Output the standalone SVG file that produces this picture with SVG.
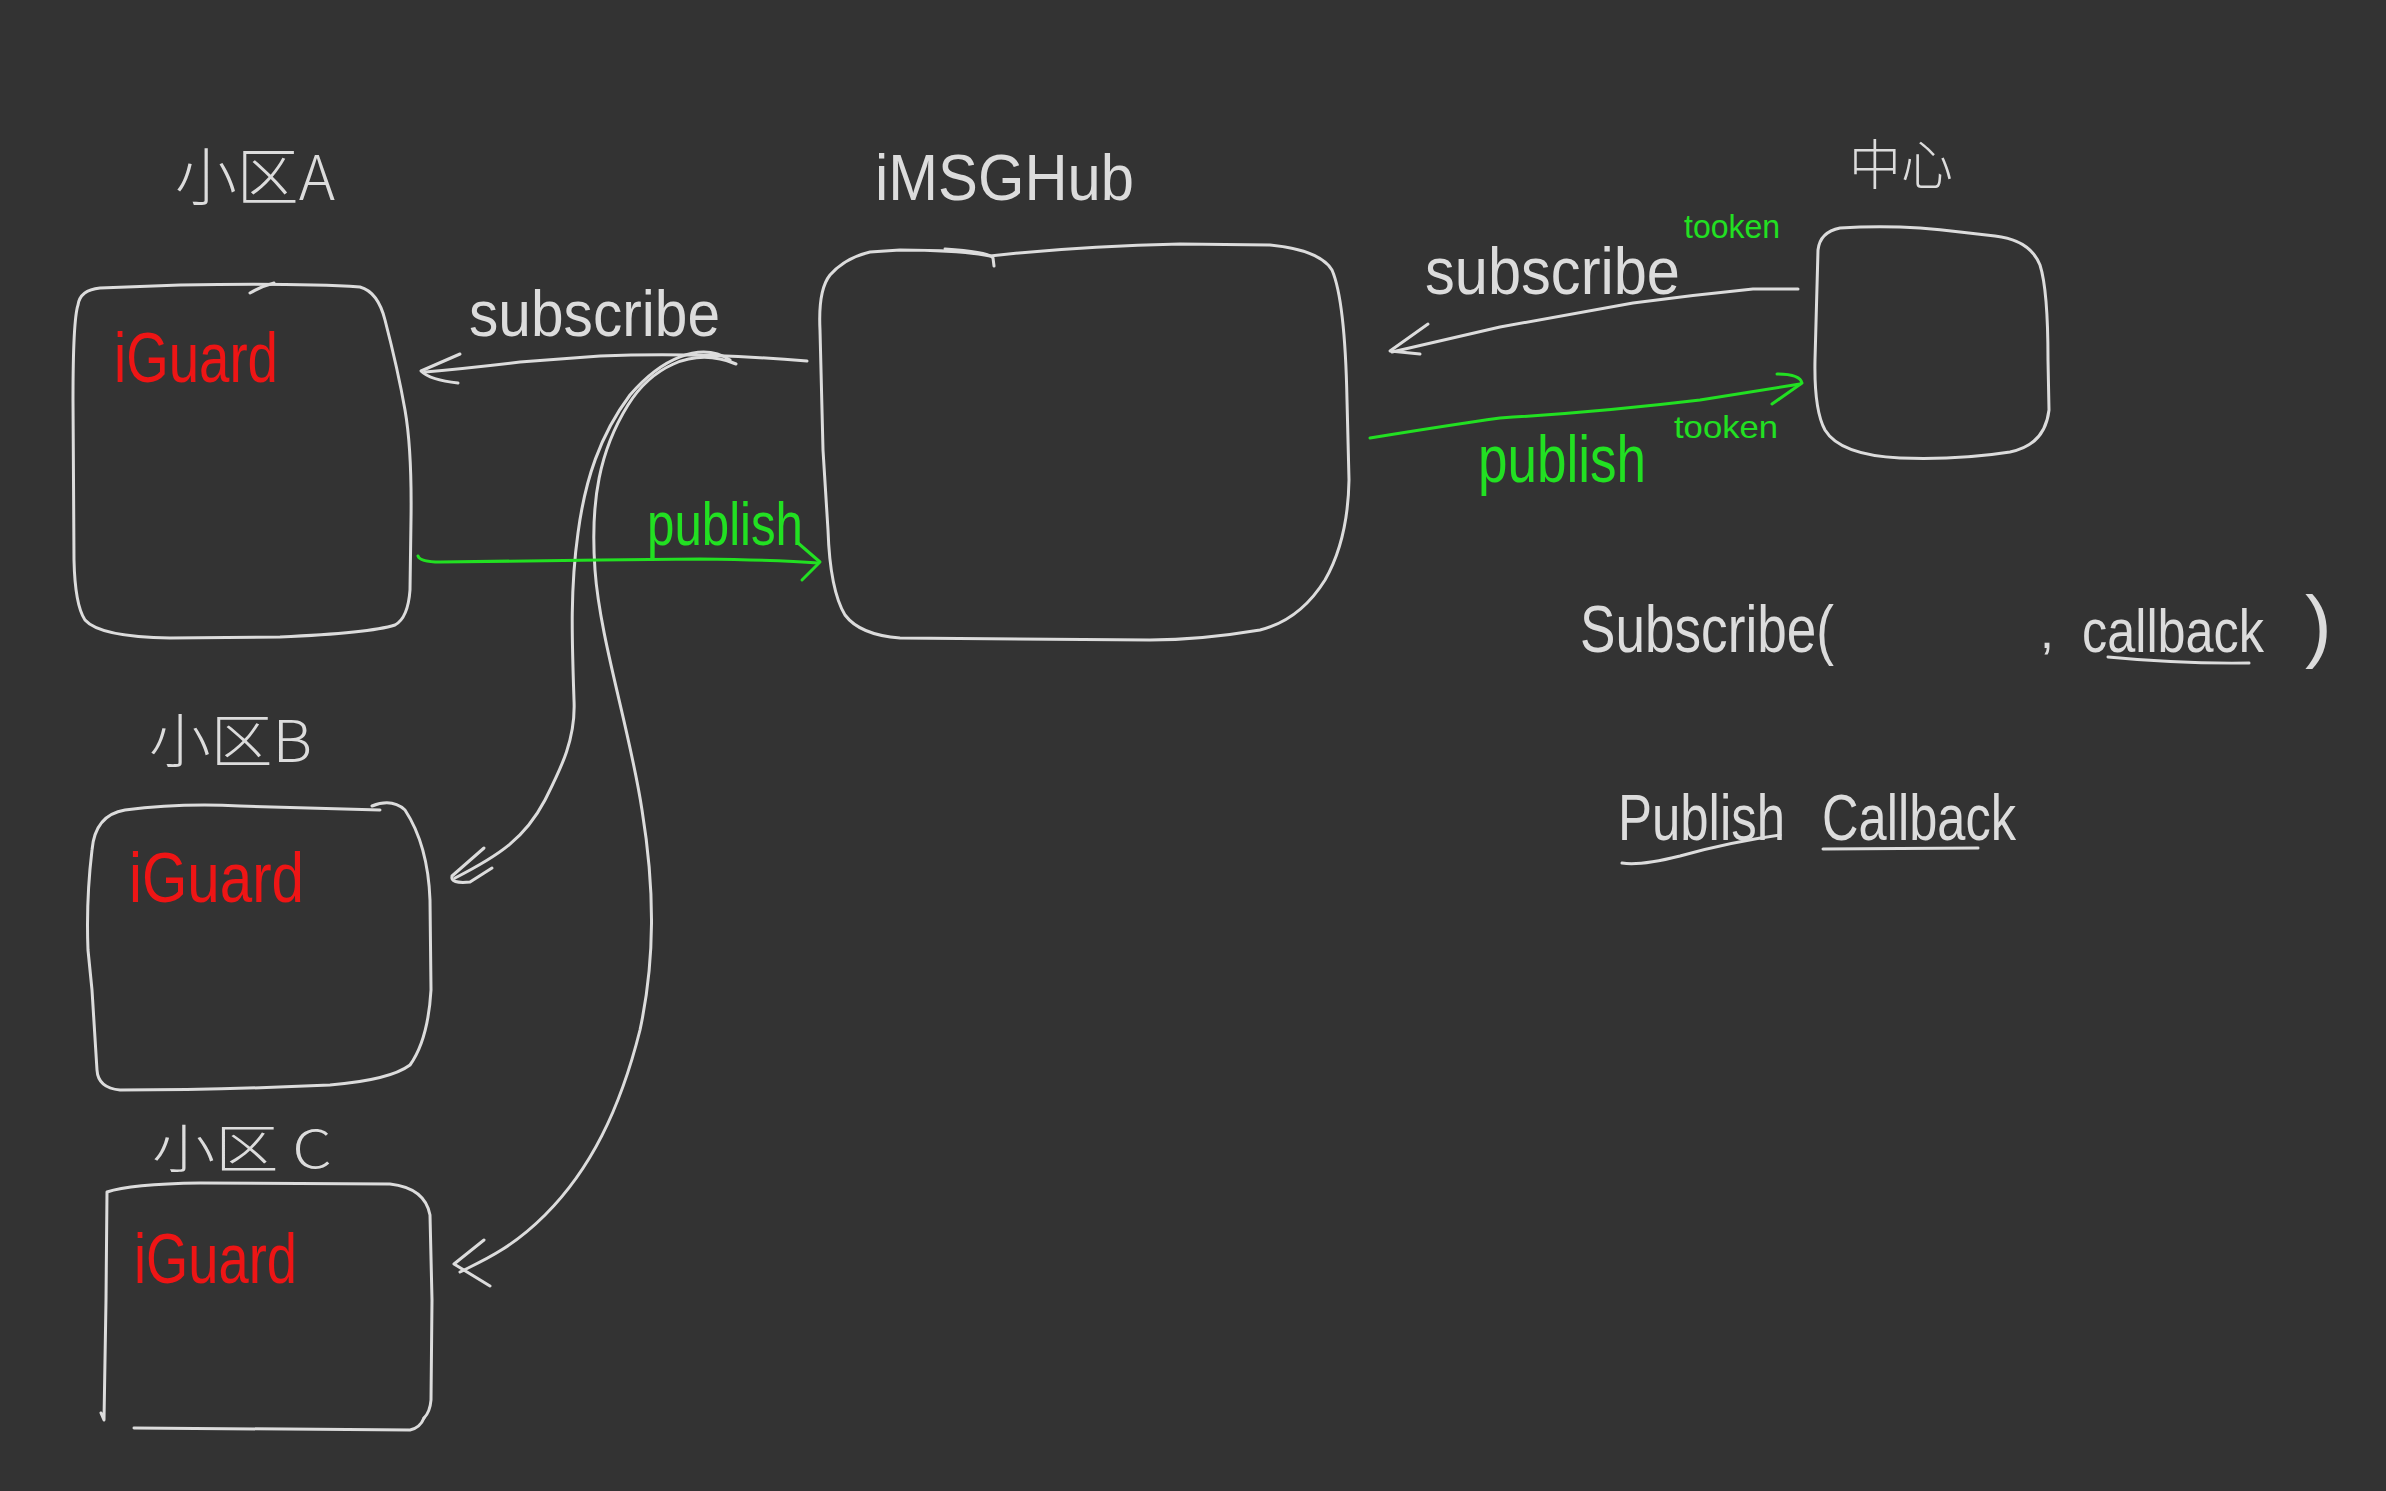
<svg xmlns="http://www.w3.org/2000/svg" width="2386" height="1491" viewBox="0 0 2386 1491">
<style>
.bg{fill:#333333}
.ln{fill:none;stroke:#dcdcdc;stroke-width:3;stroke-linecap:round;stroke-linejoin:round}
.gl{fill:none;stroke:#22e022;stroke-width:3;stroke-linecap:round;stroke-linejoin:round}
.t{font-family:"Liberation Sans","Noto Sans CJK SC",sans-serif;fill:#dcdcdc}
.cjk{font-family:"Noto Sans CJK SC",sans-serif;fill:#dcdcdc;font-weight:300}
.g{font-family:"Liberation Sans",sans-serif;fill:#22e022}
.r{font-family:"Liberation Sans",sans-serif;fill:#ee1515}
</style>
<rect class="bg" x="0" y="0" width="2386" height="1491"/>

<g id="nodeA">
<text class="cjk" x="175" y="200" font-size="62" textLength="160" lengthAdjust="spacingAndGlyphs">小区A</text>
<path class="ln" d="M78,305 Q80,290 100,288 L180,285 Q300,283 360,287 Q378,292 385,320 Q398,370 405,410 Q412,450 411,520 L410,590 Q408,618 395,625 Q370,633 280,637 L170,638 Q100,637 85,620 Q75,605 74,560 L73,400 Q73,320 78,305 Z"/>
<path class="ln" d="M250,293 Q262,286 274,283"/>
<text class="r" x="114" y="382" font-size="70" textLength="164" lengthAdjust="spacingAndGlyphs">iGuard</text>
</g>

<g id="nodeB">
<text class="cjk" x="149" y="762" font-size="58" textLength="163" lengthAdjust="spacingAndGlyphs">小区B</text>
<path class="ln" d="M380,810 L240,806 Q180,803 125,810 Q95,815 92,850 Q86,900 88,950 L92,990 L97,1070 Q98,1088 120,1090 Q220,1090 330,1085 Q390,1080 410,1065 Q428,1040 431,990 L430,900 Q428,845 405,810 Q392,798 372,806"/>
<text class="r" x="129" y="902" font-size="70" textLength="175" lengthAdjust="spacingAndGlyphs">iGuard</text>
</g>

<g id="nodeC">
<text class="cjk" x="152" y="1168" font-size="52" textLength="180" lengthAdjust="spacingAndGlyphs">小区 C</text>
<path class="ln" d="M101,1413 L104,1420 L106,1300 L107,1192 Q130,1184 200,1183 L390,1184 Q425,1188 430,1215 L432,1300 L431,1400 Q430,1412 424,1418"/>
<path class="ln" d="M134,1428 L410,1430 Q420,1428 424,1418"/>
<text class="r" x="134" y="1283" font-size="70" textLength="163" lengthAdjust="spacingAndGlyphs">iGuard</text>
</g>

<g id="nodeHub">
<text class="t" x="875" y="200" font-size="64" textLength="259" lengthAdjust="spacingAndGlyphs">iMSGHub</text>
<path class="ln" d="M820,330 Q818,290 830,275 Q845,258 870,252 L900,250 Q960,250 990,256 Q1080,246 1180,244 L1270,245 Q1320,250 1332,270 Q1345,300 1347,400 L1349,480 Q1348,540 1325,580 Q1300,620 1260,630 Q1200,640 1150,640 L900,638 Q860,635 845,615 Q830,590 828,530 L823,450 Z"/>
<path class="ln" d="M945,249 Q990,252 993,258 L994,266"/>
</g>

<g id="nodeCenter">
<text class="cjk" x="1849" y="185" font-size="54" textLength="104" lengthAdjust="spacingAndGlyphs">中心</text>
<path class="ln" d="M1818,250 Q1820,232 1840,228 Q1900,224 1960,232 L1995,236 Q2030,240 2040,265 Q2048,290 2048,360 L2049,410 Q2045,445 2010,452 Q1960,460 1900,458 Q1840,455 1825,430 Q1814,410 1815,360 Z"/>
</g>

<g id="connectors">
<path class="ln" d="M807,361 Q700,352 600,356 L520,362 Q470,368 425,372"/>
<path class="ln" d="M460,354 L421,371 Q430,380 458,383"/>
<text class="t" x="469" y="336" font-size="64" textLength="251" lengthAdjust="spacingAndGlyphs">subscribe</text>

<path class="ln" d="M730,360 C700,340 660,360 630,395 C600,435 585,480 578,533 C570,590 572,640 574,700 C576,740 560,770 545,800 C525,838 500,855 455,878"/>
<path class="ln" d="M484,848 L452,876 Q450,884 470,882 L492,868"/>

<path class="ln" d="M736,364 C690,345 650,370 628,405 C600,450 590,500 595,570 C600,640 630,730 642,810 C655,890 655,960 640,1030 C620,1110 590,1170 545,1215 C510,1250 480,1262 460,1272"/>
<path class="ln" d="M484,1240 L454,1264 L490,1286"/>

<path class="gl" d="M418,556 Q420,562 440,562 L600,560 L700,559 Q780,560 818,563"/>
<path class="gl" d="M798,543 L820,562 L802,580"/>
<text class="g" x="647" y="545" font-size="62" textLength="156" lengthAdjust="spacingAndGlyphs">publish</text>

<path class="ln" d="M1798,289 L1753,289 Q1693,295 1633,303 Q1567,315 1500,327 L1392,352"/>
<path class="ln" d="M1428,324 L1390,351 L1420,354"/>
<text class="t" x="1425" y="294" font-size="66" textLength="255" lengthAdjust="spacingAndGlyphs">subscribe</text>
<text class="g" x="1684" y="238" font-size="34" textLength="96" lengthAdjust="spacingAndGlyphs">tooken</text>

<path class="gl" d="M1370,438 Q1450,425 1500,418 Q1600,412 1700,400 L1800,384"/>
<path class="gl" d="M1777,374 Q1800,374 1802,383 L1772,404"/>
<text class="g" x="1478" y="482" font-size="66" textLength="168" lengthAdjust="spacingAndGlyphs">publish</text>
<text class="g" x="1674" y="438" font-size="32" textLength="104" lengthAdjust="spacingAndGlyphs">tooken</text>
</g>

<g id="notes">
<text class="t" x="1580" y="652" font-size="66" textLength="254" lengthAdjust="spacingAndGlyphs">Subscribe(</text>
<text class="t" x="2040" y="648" font-size="50">,</text>
<text class="t" x="2082" y="652" font-size="62" textLength="182" lengthAdjust="spacingAndGlyphs">callback</text>
<text class="t" x="2305" y="652" font-size="80">)</text>
<path class="ln" d="M2108,657 Q2180,664 2249,663"/>
<text class="t" x="1618" y="840" font-size="64" textLength="167" lengthAdjust="spacingAndGlyphs">Publish</text>
<text class="t" x="1822" y="840" font-size="64" textLength="194" lengthAdjust="spacingAndGlyphs">Callback</text>
<path class="ln" d="M1622,863 Q1640,866 1680,856 Q1730,842 1780,835"/>
<path class="ln" d="M1823,849 L1978,848"/>
</g>
</svg>
